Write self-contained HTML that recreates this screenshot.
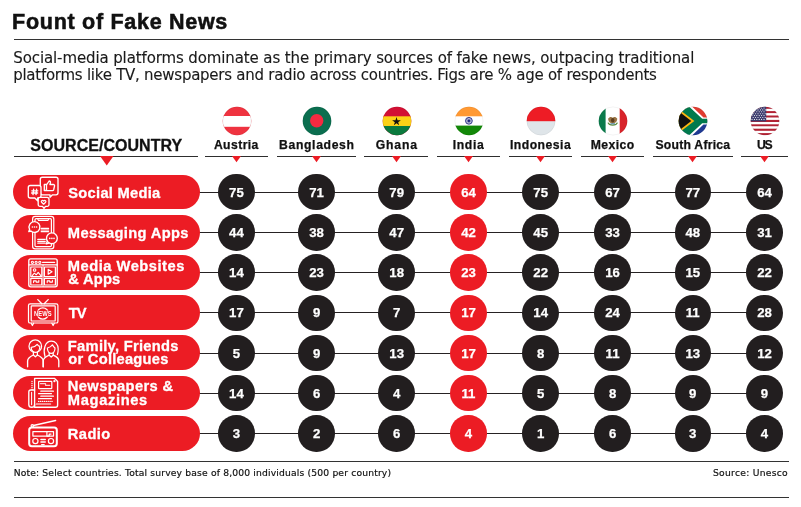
<!DOCTYPE html>
<html lang="en"><head><meta charset="utf-8"><title>Fount of Fake News</title>
<style>
html,body{margin:0;padding:0;background:#fff}
#page{position:relative;width:801px;height:507px;overflow:hidden;background:#fff}
.t{position:absolute;white-space:nowrap;margin:0}
.r{position:absolute;display:block}
</style></head><body>
<div id="page">
<div class="t" style="left:12.1px;top:10.01px;font:700 21.5px/25.8px 'Liberation Sans',sans-serif;color:#111;-webkit-text-stroke:0.55px #111;"><span id="title" style="letter-spacing:0.715px;margin-right:-0.715px;">Fount of Fake News</span></div>
<div class="r" style="left:14px;top:39px;width:775px;height:1px;background:#333"></div>
<div class="t" style="left:13.35px;top:49.01px;font:400 15px/18.0px 'DejaVu Sans','Liberation Sans',sans-serif;color:#1a1a1a;-webkit-text-stroke:0.12px #1a1a1a;"><span id="sub1" style="letter-spacing:-0.118px;margin-right:0.118px;">Social-media platforms dominate as the primary sources of fake news, outpacing traditional</span></div>
<div class="t" style="left:13.2px;top:66.01px;font:400 15px/18.0px 'DejaVu Sans','Liberation Sans',sans-serif;color:#1a1a1a;-webkit-text-stroke:0.12px #1a1a1a;"><span id="sub2" style="letter-spacing:-0.256px;margin-right:0.256px;">platforms like TV, newspapers and radio across countries. Figs are % age of respondents</span></div>
<div class="t" style="left:30.25px;top:136.00px;font:700 16px/19.2px 'Liberation Sans',sans-serif;color:#111;-webkit-text-stroke:0.3px #111;"><span id="srcc" style="letter-spacing:0.038px;margin-right:-0.038px;">SOURCE/COUNTRY</span></div>
<div class="r" style="left:14px;top:156px;width:184px;height:1.25px;background:#2e2e2e"></div>
<svg class="r" style="left:100.00px;top:156.3px" width="13.5" height="9.4" viewBox="0 0 13.5 9.4"><path d="M0 0H13.5L6.75 9.4Z" fill="#ec1c24"/></svg>
<div class="t" style="left:36.150000000000006px;width:400px;text-align:center;top:138.01px;font:700 12.2px/14.64px 'Liberation Sans',sans-serif;color:#111;-webkit-text-stroke:0.25px #111;"><span id="c0" style="letter-spacing:0.417px;margin-right:-0.417px;">Austria</span></div>
<div class="r" style="left:204.6px;top:156px;width:63.7px;height:1.25px;background:#2e2e2e"></div>
<svg class="r" style="left:231.90px;top:156.4px" width="9" height="6.2" viewBox="0 0 9 6.2"><path d="M0 0H9L4.5 6.2Z" fill="#ec1c24"/></svg>
<div class="t" style="left:116.5px;width:400px;text-align:center;top:138.01px;font:700 12.2px/14.64px 'Liberation Sans',sans-serif;color:#111;-webkit-text-stroke:0.25px #111;"><span id="c1" style="letter-spacing:0.639px;margin-right:-0.639px;">Bangladesh</span></div>
<div class="r" style="left:276.5px;top:156px;width:79.9px;height:1.25px;background:#2e2e2e"></div>
<svg class="r" style="left:312.05px;top:156.4px" width="9" height="6.2" viewBox="0 0 9 6.2"><path d="M0 0H9L4.5 6.2Z" fill="#ec1c24"/></svg>
<div class="t" style="left:196.39999999999998px;width:400px;text-align:center;top:138.01px;font:700 12.2px/14.64px 'Liberation Sans',sans-serif;color:#111;-webkit-text-stroke:0.25px #111;"><span id="c2" style="letter-spacing:0.851px;margin-right:-0.851px;">Ghana</span></div>
<div class="r" style="left:364.4px;top:156px;width:63.9px;height:1.25px;background:#2e2e2e"></div>
<svg class="r" style="left:392.15px;top:156.4px" width="9" height="6.2" viewBox="0 0 9 6.2"><path d="M0 0H9L4.5 6.2Z" fill="#ec1c24"/></svg>
<div class="t" style="left:268.25px;width:400px;text-align:center;top:138.01px;font:700 12.2px/14.64px 'Liberation Sans',sans-serif;color:#111;-webkit-text-stroke:0.25px #111;"><span id="c3" style="letter-spacing:0.611px;margin-right:-0.611px;">India</span></div>
<div class="r" style="left:436.9px;top:156px;width:63.5px;height:1.25px;background:#2e2e2e"></div>
<svg class="r" style="left:464.00px;top:156.4px" width="9" height="6.2" viewBox="0 0 9 6.2"><path d="M0 0H9L4.5 6.2Z" fill="#ec1c24"/></svg>
<div class="t" style="left:340.35px;width:400px;text-align:center;top:138.01px;font:700 12.2px/14.64px 'Liberation Sans',sans-serif;color:#111;-webkit-text-stroke:0.25px #111;"><span id="c4" style="letter-spacing:0.5px;margin-right:-0.5px;">Indonesia</span></div>
<div class="r" style="left:509px;top:156px;width:63.3px;height:1.25px;background:#2e2e2e"></div>
<svg class="r" style="left:536.15px;top:156.4px" width="9" height="6.2" viewBox="0 0 9 6.2"><path d="M0 0H9L4.5 6.2Z" fill="#ec1c24"/></svg>
<div class="t" style="left:412.45000000000005px;width:400px;text-align:center;top:138.01px;font:700 12.2px/14.64px 'Liberation Sans',sans-serif;color:#111;-webkit-text-stroke:0.25px #111;"><span id="c5" style="letter-spacing:0.4px;margin-right:-0.4px;">Mexico</span></div>
<div class="r" style="left:580.9px;top:156px;width:63.3px;height:1.25px;background:#2e2e2e"></div>
<svg class="r" style="left:608.05px;top:156.4px" width="9" height="6.2" viewBox="0 0 9 6.2"><path d="M0 0H9L4.5 6.2Z" fill="#ec1c24"/></svg>
<div class="t" style="left:492.79999999999995px;width:400px;text-align:center;top:138.01px;font:700 12.2px/14.64px 'Liberation Sans',sans-serif;color:#111;-webkit-text-stroke:0.25px #111;"><span id="c6" style="letter-spacing:0.235px;margin-right:-0.235px;">South Africa</span></div>
<div class="r" style="left:653px;top:156px;width:79.9px;height:1.25px;background:#2e2e2e"></div>
<svg class="r" style="left:688.25px;top:156.4px" width="9" height="6.2" viewBox="0 0 9 6.2"><path d="M0 0H9L4.5 6.2Z" fill="#ec1c24"/></svg>
<div class="t" style="left:564.75px;width:400px;text-align:center;top:138.01px;font:700 12.2px/14.64px 'Liberation Sans',sans-serif;color:#111;-webkit-text-stroke:0.25px #111;"><span id="c7" style="letter-spacing:-1.4px;margin-right:1.4px;">US</span></div>
<div class="r" style="left:741.2px;top:156px;width:47.3px;height:1.25px;background:#2e2e2e"></div>
<svg class="r" style="left:760.00px;top:156.4px" width="9" height="6.2" viewBox="0 0 9 6.2"><path d="M0 0H9L4.5 6.2Z" fill="#ec1c24"/></svg>
<svg class="r" style="left:221.6px;top:106.2px" width="30" height="30" viewBox="-15 -15 30 30"><defs><clipPath id="fc0"><circle r="14.3"/></clipPath></defs><g clip-path="url(#fc0)"><rect x="-15" y="-15" width="30" height="30" fill="#ef3340"/><rect x="-15" y="-5" width="30" height="10.8" fill="#fff"/></g><circle r="14.100000000000001" fill="none" stroke="#000" stroke-opacity="0.07" stroke-width="0.7"/></svg>
<svg class="r" style="left:301.75px;top:106.2px" width="30" height="30" viewBox="-15 -15 30 30"><defs><clipPath id="fc1"><circle r="14.3"/></clipPath></defs><g clip-path="url(#fc1)"><rect x="-15" y="-15" width="30" height="30" fill="#0b6e4f"/><circle cx="-0.3" cy="-0.2" r="6.7" fill="#f42a41"/></g><circle r="14.100000000000001" fill="none" stroke="#000" stroke-opacity="0.07" stroke-width="0.7"/></svg>
<svg class="r" style="left:381.84999999999997px;top:106.2px" width="30" height="30" viewBox="-15 -15 30 30"><defs><clipPath id="fc2"><circle r="14.3"/></clipPath></defs><g clip-path="url(#fc2)"><rect x="-15" y="-15" width="30" height="30" fill="#d21034"/><rect x="-15" y="-4.7" width="30" height="9.7" fill="#fcd116"/><rect x="-15" y="5" width="30" height="10" fill="#0b7a3e"/><polygon points="-0.50,-4.00 0.53,-0.82 3.87,-0.82 1.17,1.14 2.20,4.32 -0.50,2.36 -3.20,4.32 -2.17,1.14 -4.87,-0.82 -1.53,-0.82" fill="#111"/></g><circle r="14.100000000000001" fill="none" stroke="#000" stroke-opacity="0.07" stroke-width="0.7"/></svg>
<svg class="r" style="left:453.7px;top:106.2px" width="30" height="30" viewBox="-15 -15 30 30"><defs><clipPath id="fc3"><circle r="14.3"/></clipPath></defs><g clip-path="url(#fc3)"><rect x="-15" y="-15" width="30" height="30" fill="#fff"/><rect x="-15" y="-15" width="30" height="10.3" fill="#ff9933"/><rect x="-15" y="4.6" width="30" height="11" fill="#138808"/><g transform="translate(-0.1,-0.2)" stroke="#1a237e" stroke-width="0.5" fill="none"><circle r="3.4" stroke-width="0.9"/><line x1="0" y1="0" x2="3.20" y2="0.00"/><line x1="0" y1="0" x2="2.77" y2="1.60"/><line x1="0" y1="0" x2="1.60" y2="2.77"/><line x1="0" y1="0" x2="0.00" y2="3.20"/><line x1="0" y1="0" x2="-1.60" y2="2.77"/><line x1="0" y1="0" x2="-2.77" y2="1.60"/><line x1="0" y1="0" x2="-3.20" y2="0.00"/><line x1="0" y1="0" x2="-2.77" y2="-1.60"/><line x1="0" y1="0" x2="-1.60" y2="-2.77"/><line x1="0" y1="0" x2="-0.00" y2="-3.20"/><line x1="0" y1="0" x2="1.60" y2="-2.77"/><line x1="0" y1="0" x2="2.77" y2="-1.60"/><circle r="0.9" fill="#1a237e"/></g></g><circle r="14.100000000000001" fill="none" stroke="#000" stroke-opacity="0.07" stroke-width="0.7"/></svg>
<svg class="r" style="left:525.85px;top:106.2px" width="30" height="30" viewBox="-15 -15 30 30"><defs><clipPath id="fc4"><circle r="14.3"/></clipPath></defs><g clip-path="url(#fc4)"><rect x="-15" y="-15" width="30" height="30" fill="#dfe5e9"/><rect x="-15" y="-15" width="30" height="15.2" fill="#ee1c25"/></g><circle r="14.100000000000001" fill="none" stroke="#000" stroke-opacity="0.07" stroke-width="0.7"/></svg>
<svg class="r" style="left:597.75px;top:106.2px" width="30" height="30" viewBox="-15 -15 30 30"><defs><clipPath id="fc5"><circle r="14.3"/></clipPath></defs><g clip-path="url(#fc5)"><rect x="-15" y="-15" width="30" height="30" fill="#fff"/><rect x="-15" y="-15" width="7.6" height="30" fill="#0b7a4b"/><rect x="6.7" y="-15" width="9" height="30" fill="#d8232a"/><path d="M-4.800 -2.400C-3.600 -4.400 -1.400 -4.600 -0.300 -3.200C0.800 -4.600 3 -4.400 4.200 -2.400C4.400 0.200 2.600 2.400 -0.300 2.600C-3.200 2.400 -5 0.200 -4.800 -2.400Z" fill="#9a7444"/><path d="M-5 1.600C-3.800 5 3.200 5 4.400 1.600" stroke="#5b8a3a" stroke-width="1.200" fill="none"/><ellipse cx="-0.300" cy="-0.800" rx="1.700" ry="2.300" fill="#5a3d1e"/><path d="M-2.600 2.800h4.600" stroke="#3b7fa8" stroke-width="0.900"/></g><circle r="14.100000000000001" fill="none" stroke="#000" stroke-opacity="0.07" stroke-width="0.7"/></svg>
<svg class="r" style="left:677.95px;top:106.2px" width="30" height="30" viewBox="-15 -15 30 30"><defs><clipPath id="fc6"><circle r="14.3"/></clipPath></defs><g clip-path="url(#fc6)"><rect x="-15" y="-15" width="30" height="15" fill="#e03c31"/><rect x="-15" y="0" width="30" height="15" fill="#1f3a93"/><path d="M-15 -15L-1.5 -15L10.5 -3.5H16V3.5H10.5L-1.500 15H-15Z" fill="#fff"/><path d="M-15 -15L-4.600 -15L9.200 -2.200H16V2.200H9.200L-4.600 15H-15Z" fill="#007a4d"/><path d="M-15 -12.500L1.400 0L-15 12.500Z" fill="#ffb612"/><path d="M-15 -10.200L-1.700 0L-15 10.200Z" fill="#111"/></g><circle r="14.100000000000001" fill="none" stroke="#000" stroke-opacity="0.07" stroke-width="0.7"/></svg>
<svg class="r" style="left:749.7px;top:106.2px" width="30" height="30" viewBox="-15 -15 30 30"><defs><clipPath id="fc7"><circle r="14.3"/></clipPath></defs><g clip-path="url(#fc7)"><rect x="-15" y="-15" width="30" height="30" fill="#fff"/><rect x="-15" y="-14.30" width="30" height="2.2" fill="#b22234"/><rect x="-15" y="-12.10" width="30" height="2.2" fill="#fff"/><rect x="-15" y="-9.90" width="30" height="2.2" fill="#b22234"/><rect x="-15" y="-7.70" width="30" height="2.2" fill="#fff"/><rect x="-15" y="-5.50" width="30" height="2.2" fill="#b22234"/><rect x="-15" y="-3.30" width="30" height="2.2" fill="#fff"/><rect x="-15" y="-1.10" width="30" height="2.2" fill="#b22234"/><rect x="-15" y="1.10" width="30" height="2.2" fill="#fff"/><rect x="-15" y="3.30" width="30" height="2.2" fill="#b22234"/><rect x="-15" y="5.50" width="30" height="2.2" fill="#fff"/><rect x="-15" y="7.70" width="30" height="2.2" fill="#b22234"/><rect x="-15" y="9.90" width="30" height="2.2" fill="#fff"/><rect x="-15" y="12.10" width="30" height="2.2" fill="#b22234"/><rect x="-15" y="-15" width="16.2" height="15.4" fill="#3c3b6e"/><circle cx="-13.00" cy="-13.00" r="0.55" fill="#fff"/><circle cx="-10.60" cy="-13.00" r="0.55" fill="#fff"/><circle cx="-8.20" cy="-13.00" r="0.55" fill="#fff"/><circle cx="-5.80" cy="-13.00" r="0.55" fill="#fff"/><circle cx="-3.40" cy="-13.00" r="0.55" fill="#fff"/><circle cx="-1.00" cy="-13.00" r="0.55" fill="#fff"/><circle cx="-11.80" cy="-11.10" r="0.55" fill="#fff"/><circle cx="-9.40" cy="-11.10" r="0.55" fill="#fff"/><circle cx="-7.00" cy="-11.10" r="0.55" fill="#fff"/><circle cx="-4.60" cy="-11.10" r="0.55" fill="#fff"/><circle cx="-2.20" cy="-11.10" r="0.55" fill="#fff"/><circle cx="0.20" cy="-11.10" r="0.55" fill="#fff"/><circle cx="-13.00" cy="-9.20" r="0.55" fill="#fff"/><circle cx="-10.60" cy="-9.20" r="0.55" fill="#fff"/><circle cx="-8.20" cy="-9.20" r="0.55" fill="#fff"/><circle cx="-5.80" cy="-9.20" r="0.55" fill="#fff"/><circle cx="-3.40" cy="-9.20" r="0.55" fill="#fff"/><circle cx="-1.00" cy="-9.20" r="0.55" fill="#fff"/><circle cx="-11.80" cy="-7.30" r="0.55" fill="#fff"/><circle cx="-9.40" cy="-7.30" r="0.55" fill="#fff"/><circle cx="-7.00" cy="-7.30" r="0.55" fill="#fff"/><circle cx="-4.60" cy="-7.30" r="0.55" fill="#fff"/><circle cx="-2.20" cy="-7.30" r="0.55" fill="#fff"/><circle cx="0.20" cy="-7.30" r="0.55" fill="#fff"/><circle cx="-13.00" cy="-5.40" r="0.55" fill="#fff"/><circle cx="-10.60" cy="-5.40" r="0.55" fill="#fff"/><circle cx="-8.20" cy="-5.40" r="0.55" fill="#fff"/><circle cx="-5.80" cy="-5.40" r="0.55" fill="#fff"/><circle cx="-3.40" cy="-5.40" r="0.55" fill="#fff"/><circle cx="-1.00" cy="-5.40" r="0.55" fill="#fff"/><circle cx="-11.80" cy="-3.50" r="0.55" fill="#fff"/><circle cx="-9.40" cy="-3.50" r="0.55" fill="#fff"/><circle cx="-7.00" cy="-3.50" r="0.55" fill="#fff"/><circle cx="-4.60" cy="-3.50" r="0.55" fill="#fff"/><circle cx="-2.20" cy="-3.50" r="0.55" fill="#fff"/><circle cx="0.20" cy="-3.50" r="0.55" fill="#fff"/><circle cx="-13.00" cy="-1.60" r="0.55" fill="#fff"/><circle cx="-10.60" cy="-1.60" r="0.55" fill="#fff"/><circle cx="-8.20" cy="-1.60" r="0.55" fill="#fff"/><circle cx="-5.80" cy="-1.60" r="0.55" fill="#fff"/><circle cx="-3.40" cy="-1.60" r="0.55" fill="#fff"/><circle cx="-1.00" cy="-1.60" r="0.55" fill="#fff"/></g><circle r="14.100000000000001" fill="none" stroke="#000" stroke-opacity="0.07" stroke-width="0.7"/></svg>
<div class="r" style="left:190px;top:191.70px;width:575px;height:1.1px;background:#262223"></div>
<div class="r" style="left:13px;top:174.60px;width:186.5px;height:34.9px;border-radius:17.5px;background:#ec1c24"></div>
<svg class="r" style="left:20px;top:170px" width="60" height="42" viewBox="0 0 60 42" fill="none" stroke="#fff" stroke-width="1.35" stroke-linecap="round" stroke-linejoin="round"><!-- social -->
<path d="M22.3 7.2H36a2 2 0 0 1 2 2V22.8a2 2 0 0 1-2 2H32.5L30 27.2V24.8H22.3a2 2 0 0 1-2-2V9.2a2 2 0 0 1 2-2Z" fill="#ec1c24"/>
<path d="M24.3 14.5h2.2v6h-2.2zM26.5 15l2.6-4c1.2 0 1.6 1 1.2 2.2l-.4 1.3h3.4c1 0 1.4.8 1.2 1.6l-.8 3.6c-.2.6-.6.9-1.3.9h-5.9"/>
<path d="M10.3 15.5H19a2 2 0 0 1 2 2V26a2 2 0 0 1-2 2H17.6V30.8L14.8 28H10.3a2 2 0 0 1-2-2V17.5a2 2 0 0 1 2-2Z" fill="#ec1c24"/>
<path d="M13.6 19.2l-.6 5.4M16.6 19.2l-.6 5.4M11.8 20.8h6M11.6 23h6"/>
<path d="M20 27.4H27.2a1.8 1.8 0 0 1 1.8 1.8V34.6a1.8 1.8 0 0 1-1.8 1.8H25.5L24 38.4 22.5 36.4H20a1.8 1.8 0 0 1-1.8-1.8V29.2a1.8 1.8 0 0 1 1.8-1.8Z" fill="#ec1c24"/>
<path d="M23.6 34.2l-2-2c-.9-1.1.7-2.6 2-1.2 1.3-1.4 2.900.1 2 1.2Z" stroke-width="1.22"/>
</svg>
<div class="t" style="left:68.3px;top:185.01px;font:700 14.7px/17.64px 'Liberation Sans',sans-serif;color:#fff;-webkit-text-stroke:0.3px #fff;"><span id="p0a" style="letter-spacing:0.269px;margin-right:-0.269px;">Social Media</span></div>
<div class="r" style="left:218.20px;top:174.05px;width:36.4px;height:36.4px;border-radius:50%;background:#221e1f"></div>
<div class="t" style="left:36.400000000000006px;width:400px;text-align:center;top:185.01px;font:700 13.2px/15.84px 'Liberation Sans',sans-serif;color:#fff;-webkit-text-stroke:0.25px #fff;"><span id="v0_0" style="letter-spacing:0px;">75</span></div>
<div class="r" style="left:298.35px;top:174.05px;width:36.4px;height:36.4px;border-radius:50%;background:#221e1f"></div>
<div class="t" style="left:116.55000000000001px;width:400px;text-align:center;top:185.01px;font:700 13.2px/15.84px 'Liberation Sans',sans-serif;color:#fff;-webkit-text-stroke:0.25px #fff;"><span id="v0_1" style="letter-spacing:0px;">71</span></div>
<div class="r" style="left:378.45px;top:174.05px;width:36.4px;height:36.4px;border-radius:50%;background:#221e1f"></div>
<div class="t" style="left:196.64999999999998px;width:400px;text-align:center;top:185.01px;font:700 13.2px/15.84px 'Liberation Sans',sans-serif;color:#fff;-webkit-text-stroke:0.25px #fff;"><span id="v0_2" style="letter-spacing:0px;">79</span></div>
<div class="r" style="left:450.30px;top:174.05px;width:36.4px;height:36.4px;border-radius:50%;background:#ec1c24"></div>
<div class="t" style="left:268.5px;width:400px;text-align:center;top:185.01px;font:700 13.2px/15.84px 'Liberation Sans',sans-serif;color:#fff;-webkit-text-stroke:0.25px #fff;"><span id="v0_3" style="letter-spacing:0px;">64</span></div>
<div class="r" style="left:522.45px;top:174.05px;width:36.4px;height:36.4px;border-radius:50%;background:#221e1f"></div>
<div class="t" style="left:340.65px;width:400px;text-align:center;top:185.01px;font:700 13.2px/15.84px 'Liberation Sans',sans-serif;color:#fff;-webkit-text-stroke:0.25px #fff;"><span id="v0_4" style="letter-spacing:0px;">75</span></div>
<div class="r" style="left:594.35px;top:174.05px;width:36.4px;height:36.4px;border-radius:50%;background:#221e1f"></div>
<div class="t" style="left:412.54999999999995px;width:400px;text-align:center;top:185.01px;font:700 13.2px/15.84px 'Liberation Sans',sans-serif;color:#fff;-webkit-text-stroke:0.25px #fff;"><span id="v0_5" style="letter-spacing:0px;">67</span></div>
<div class="r" style="left:674.55px;top:174.05px;width:36.4px;height:36.4px;border-radius:50%;background:#221e1f"></div>
<div class="t" style="left:492.75px;width:400px;text-align:center;top:185.01px;font:700 13.2px/15.84px 'Liberation Sans',sans-serif;color:#fff;-webkit-text-stroke:0.25px #fff;"><span id="v0_6" style="letter-spacing:0px;">77</span></div>
<div class="r" style="left:746.30px;top:174.05px;width:36.4px;height:36.4px;border-radius:50%;background:#221e1f"></div>
<div class="t" style="left:564.5px;width:400px;text-align:center;top:185.01px;font:700 13.2px/15.84px 'Liberation Sans',sans-serif;color:#fff;-webkit-text-stroke:0.25px #fff;"><span id="v0_7" style="letter-spacing:0px;">64</span></div>
<div class="r" style="left:190px;top:231.90px;width:575px;height:1.1px;background:#262223"></div>
<div class="r" style="left:13px;top:214.80px;width:186.5px;height:34.9px;border-radius:17.5px;background:#ec1c24"></div>
<svg class="r" style="left:20px;top:210px" width="60" height="42" viewBox="0 0 60 42" fill="none" stroke="#fff" stroke-width="1.35" stroke-linecap="round" stroke-linejoin="round">
<!-- messaging -->
<rect x="12.6" y="6.4" width="21.2" height="32.4" rx="2.6" stroke-width="1.22"/>
<rect x="15" y="8.6" width="16.4" height="28" rx="1.2" stroke-width="1.22"/>
<path d="M17.5 8.6l1 1.8h9.400l1-1.800" stroke-width="1.08"/>
<path d="M21.2 18.400h7.400M21.2 20h7.400M21.200 21.700h7.400M17.800 29.400h7.400M17.800 31.400h7.400M17.800 33.200h7.400" stroke-width="1.22"/>
<path d="M14.500 11.600a5.400 5.400 0 1 1-3.600 9.400L8.800 21.600l.8-2.200A5.400 5.400 0 0 1 14.500 11.600Z" fill="#ec1c24"/>
<path d="M12.400 17h.01M14.500 17h.01M16.600 17h.01" stroke-width="1.62"/>
<path d="M31.900 22.900a5.400 5.400 0 1 1-4.800 7.900l-1.200 2.600 3 -.6A5.400 5.400 0 0 0 31.900 22.900Z" fill="#ec1c24" stroke="none"/>
<circle cx="31.900" cy="28.300" r="5.400" fill="#ec1c24"/>
<path d="M27.400 31.300l-1.200 2.600 3-.8" />
<path d="M29.800 28.400h.01M31.900 28.400h.01M34 28.400h.01" stroke-width="1.62"/>
</svg>
<div class="t" style="left:67.85px;top:225.00px;font:700 14.7px/17.64px 'Liberation Sans',sans-serif;color:#fff;-webkit-text-stroke:0.3px #fff;"><span id="p1a" style="letter-spacing:0.342px;margin-right:-0.342px;">Messaging Apps</span></div>
<div class="r" style="left:218.20px;top:214.25px;width:36.4px;height:36.4px;border-radius:50%;background:#221e1f"></div>
<div class="t" style="left:36.400000000000006px;width:400px;text-align:center;top:225.01px;font:700 13.2px/15.84px 'Liberation Sans',sans-serif;color:#fff;-webkit-text-stroke:0.25px #fff;"><span id="v1_0" style="letter-spacing:0px;">44</span></div>
<div class="r" style="left:298.35px;top:214.25px;width:36.4px;height:36.4px;border-radius:50%;background:#221e1f"></div>
<div class="t" style="left:116.55000000000001px;width:400px;text-align:center;top:225.01px;font:700 13.2px/15.84px 'Liberation Sans',sans-serif;color:#fff;-webkit-text-stroke:0.25px #fff;"><span id="v1_1" style="letter-spacing:0px;">38</span></div>
<div class="r" style="left:378.45px;top:214.25px;width:36.4px;height:36.4px;border-radius:50%;background:#221e1f"></div>
<div class="t" style="left:196.64999999999998px;width:400px;text-align:center;top:225.01px;font:700 13.2px/15.84px 'Liberation Sans',sans-serif;color:#fff;-webkit-text-stroke:0.25px #fff;"><span id="v1_2" style="letter-spacing:0px;">47</span></div>
<div class="r" style="left:450.30px;top:214.25px;width:36.4px;height:36.4px;border-radius:50%;background:#ec1c24"></div>
<div class="t" style="left:268.5px;width:400px;text-align:center;top:225.01px;font:700 13.2px/15.84px 'Liberation Sans',sans-serif;color:#fff;-webkit-text-stroke:0.25px #fff;"><span id="v1_3" style="letter-spacing:0px;">42</span></div>
<div class="r" style="left:522.45px;top:214.25px;width:36.4px;height:36.4px;border-radius:50%;background:#221e1f"></div>
<div class="t" style="left:340.65px;width:400px;text-align:center;top:225.01px;font:700 13.2px/15.84px 'Liberation Sans',sans-serif;color:#fff;-webkit-text-stroke:0.25px #fff;"><span id="v1_4" style="letter-spacing:0px;">45</span></div>
<div class="r" style="left:594.35px;top:214.25px;width:36.4px;height:36.4px;border-radius:50%;background:#221e1f"></div>
<div class="t" style="left:412.54999999999995px;width:400px;text-align:center;top:225.01px;font:700 13.2px/15.84px 'Liberation Sans',sans-serif;color:#fff;-webkit-text-stroke:0.25px #fff;"><span id="v1_5" style="letter-spacing:0px;">33</span></div>
<div class="r" style="left:674.55px;top:214.25px;width:36.4px;height:36.4px;border-radius:50%;background:#221e1f"></div>
<div class="t" style="left:492.75px;width:400px;text-align:center;top:225.01px;font:700 13.2px/15.84px 'Liberation Sans',sans-serif;color:#fff;-webkit-text-stroke:0.25px #fff;"><span id="v1_6" style="letter-spacing:0px;">48</span></div>
<div class="r" style="left:746.30px;top:214.25px;width:36.4px;height:36.4px;border-radius:50%;background:#221e1f"></div>
<div class="t" style="left:564.5px;width:400px;text-align:center;top:225.01px;font:700 13.2px/15.84px 'Liberation Sans',sans-serif;color:#fff;-webkit-text-stroke:0.25px #fff;"><span id="v1_7" style="letter-spacing:0px;">31</span></div>
<div class="r" style="left:190px;top:272.10px;width:575px;height:1.1px;background:#262223"></div>
<div class="r" style="left:13px;top:255.00px;width:186.5px;height:34.9px;border-radius:17.5px;background:#ec1c24"></div>
<svg class="r" style="left:20px;top:250px" width="60" height="42" viewBox="0 0 60 42" fill="none" stroke="#fff" stroke-width="1.35" stroke-linecap="round" stroke-linejoin="round">
<!-- media websites -->
<rect x="8.800" y="8.800" width="28.400" height="28" rx="2" stroke-width="1.35"/>
<path d="M8.800 14.900h28.400" />
<circle cx="12.400" cy="12.300" r="1.100" stroke-width="1.08"/><circle cx="16.100" cy="12.300" r="1.100" stroke-width="1.08"/><circle cx="19.800" cy="12.300" r="1.100" stroke-width="1.08"/>
<path d="M22.600 12.300h12"/>
<rect x="10.800" y="17" width="11" height="9.600" stroke-width="1.22"/>
<rect x="24.400" y="17" width="11" height="9.600" stroke-width="1.22"/>
<rect x="10.800" y="28.400" width="11" height="6.600" stroke-width="1.22"/>
<rect x="24.400" y="28.400" width="11" height="6.600" stroke-width="1.22"/>
<path d="M23.100 15.500v20.500" stroke-width="1.76" opacity="0.55"/>
<circle cx="14.600" cy="20" r="1.300" stroke-width="1.08"/>
<path d="M12.200 25.600l2.200-2.400 1.800 1.600 2-2.400 2.600 3.200" stroke-width="1.08"/>
<path d="M28.200 19.400v4.800l3.800-2.400z" stroke-width="1.22"/>
<path d="M13.600 32.600v-1.700h2.600v1.200h2.600v-1.700M27.200 32.600v-1.700h2.600v1.200h2.600v-1.700" stroke-width="1.08"/>
</svg>
<div class="t" style="left:67.85px;top:258.01px;font:700 14.7px/17.64px 'Liberation Sans',sans-serif;color:#fff;-webkit-text-stroke:0.3px #fff;"><span id="p2a" style="letter-spacing:0.504px;margin-right:-0.504px;">Media Websites</span></div>
<div class="t" style="left:68.35px;top:271.01px;font:700 14.7px/17.64px 'Liberation Sans',sans-serif;color:#fff;-webkit-text-stroke:0.3px #fff;"><span id="p2b" style="letter-spacing:0.21px;margin-right:-0.21px;">&amp; Apps</span></div>
<div class="r" style="left:218.20px;top:254.45px;width:36.4px;height:36.4px;border-radius:50%;background:#221e1f"></div>
<div class="t" style="left:36.400000000000006px;width:400px;text-align:center;top:265.01px;font:700 13.2px/15.84px 'Liberation Sans',sans-serif;color:#fff;-webkit-text-stroke:0.25px #fff;"><span id="v2_0" style="letter-spacing:0px;">14</span></div>
<div class="r" style="left:298.35px;top:254.45px;width:36.4px;height:36.4px;border-radius:50%;background:#221e1f"></div>
<div class="t" style="left:116.55000000000001px;width:400px;text-align:center;top:265.01px;font:700 13.2px/15.84px 'Liberation Sans',sans-serif;color:#fff;-webkit-text-stroke:0.25px #fff;"><span id="v2_1" style="letter-spacing:0px;">23</span></div>
<div class="r" style="left:378.45px;top:254.45px;width:36.4px;height:36.4px;border-radius:50%;background:#221e1f"></div>
<div class="t" style="left:196.64999999999998px;width:400px;text-align:center;top:265.01px;font:700 13.2px/15.84px 'Liberation Sans',sans-serif;color:#fff;-webkit-text-stroke:0.25px #fff;"><span id="v2_2" style="letter-spacing:0px;">18</span></div>
<div class="r" style="left:450.30px;top:254.45px;width:36.4px;height:36.4px;border-radius:50%;background:#ec1c24"></div>
<div class="t" style="left:268.5px;width:400px;text-align:center;top:265.01px;font:700 13.2px/15.84px 'Liberation Sans',sans-serif;color:#fff;-webkit-text-stroke:0.25px #fff;"><span id="v2_3" style="letter-spacing:0px;">23</span></div>
<div class="r" style="left:522.45px;top:254.45px;width:36.4px;height:36.4px;border-radius:50%;background:#221e1f"></div>
<div class="t" style="left:340.65px;width:400px;text-align:center;top:265.01px;font:700 13.2px/15.84px 'Liberation Sans',sans-serif;color:#fff;-webkit-text-stroke:0.25px #fff;"><span id="v2_4" style="letter-spacing:0px;">22</span></div>
<div class="r" style="left:594.35px;top:254.45px;width:36.4px;height:36.4px;border-radius:50%;background:#221e1f"></div>
<div class="t" style="left:412.54999999999995px;width:400px;text-align:center;top:265.01px;font:700 13.2px/15.84px 'Liberation Sans',sans-serif;color:#fff;-webkit-text-stroke:0.25px #fff;"><span id="v2_5" style="letter-spacing:0px;">16</span></div>
<div class="r" style="left:674.55px;top:254.45px;width:36.4px;height:36.4px;border-radius:50%;background:#221e1f"></div>
<div class="t" style="left:492.75px;width:400px;text-align:center;top:265.01px;font:700 13.2px/15.84px 'Liberation Sans',sans-serif;color:#fff;-webkit-text-stroke:0.25px #fff;"><span id="v2_6" style="letter-spacing:0px;">15</span></div>
<div class="r" style="left:746.30px;top:254.45px;width:36.4px;height:36.4px;border-radius:50%;background:#221e1f"></div>
<div class="t" style="left:564.5px;width:400px;text-align:center;top:265.01px;font:700 13.2px/15.84px 'Liberation Sans',sans-serif;color:#fff;-webkit-text-stroke:0.25px #fff;"><span id="v2_7" style="letter-spacing:0px;">22</span></div>
<div class="r" style="left:190px;top:312.30px;width:575px;height:1.1px;background:#262223"></div>
<div class="r" style="left:13px;top:295.20px;width:186.5px;height:34.9px;border-radius:17.5px;background:#ec1c24"></div>
<svg class="r" style="left:20px;top:290px" width="60" height="42" viewBox="0 0 60 42" fill="none" stroke="#fff" stroke-width="1.35" stroke-linecap="round" stroke-linejoin="round">
<!-- tv -->
<path d="M17.800 9.600l4 4.100M28.200 9.600l-4 4.100"/>
<rect x="8.500" y="13.800" width="29.400" height="19.200" rx="1.600" stroke-width="1.22"/>
<rect x="11.200" y="15.800" width="24" height="15.200" rx="0.600" stroke-width="1.22"/>
<path d="M11.200 33.200l1.200 2.300 1.200-2.300M31.900 33.200l1.200 2.300 1.200-2.300" stroke-width="1.22"/>
<circle cx="22.800" cy="23.500" r="5.700" stroke-width="1.22"/>
<rect x="13.600" y="20.600" width="18.400" height="5.900" fill="#ec1c24" stroke="none"/>
<text x="22.800" y="26" text-anchor="middle" font-family="'Liberation Sans',sans-serif" font-size="6.6" font-weight="700" fill="#fff" stroke="none" textLength="17.400" lengthAdjust="spacingAndGlyphs">NEWS</text>
</svg>
<div class="t" style="left:68.85px;top:305.01px;font:700 14.7px/17.64px 'Liberation Sans',sans-serif;color:#fff;-webkit-text-stroke:0.3px #fff;"><span id="p3a" style="letter-spacing:-1.05px;margin-right:1.05px;">TV</span></div>
<div class="r" style="left:218.20px;top:294.65px;width:36.4px;height:36.4px;border-radius:50%;background:#221e1f"></div>
<div class="t" style="left:36.400000000000006px;width:400px;text-align:center;top:305.00px;font:700 13.2px/15.84px 'Liberation Sans',sans-serif;color:#fff;-webkit-text-stroke:0.25px #fff;"><span id="v3_0" style="letter-spacing:0px;">17</span></div>
<div class="r" style="left:298.35px;top:294.65px;width:36.4px;height:36.4px;border-radius:50%;background:#221e1f"></div>
<div class="t" style="left:116.55000000000001px;width:400px;text-align:center;top:305.00px;font:700 13.2px/15.84px 'Liberation Sans',sans-serif;color:#fff;-webkit-text-stroke:0.25px #fff;"><span id="v3_1" style="letter-spacing:0px;">9</span></div>
<div class="r" style="left:378.45px;top:294.65px;width:36.4px;height:36.4px;border-radius:50%;background:#221e1f"></div>
<div class="t" style="left:196.64999999999998px;width:400px;text-align:center;top:305.00px;font:700 13.2px/15.84px 'Liberation Sans',sans-serif;color:#fff;-webkit-text-stroke:0.25px #fff;"><span id="v3_2" style="letter-spacing:0px;">7</span></div>
<div class="r" style="left:450.30px;top:294.65px;width:36.4px;height:36.4px;border-radius:50%;background:#ec1c24"></div>
<div class="t" style="left:268.5px;width:400px;text-align:center;top:305.00px;font:700 13.2px/15.84px 'Liberation Sans',sans-serif;color:#fff;-webkit-text-stroke:0.25px #fff;"><span id="v3_3" style="letter-spacing:0px;">17</span></div>
<div class="r" style="left:522.45px;top:294.65px;width:36.4px;height:36.4px;border-radius:50%;background:#221e1f"></div>
<div class="t" style="left:340.65px;width:400px;text-align:center;top:305.00px;font:700 13.2px/15.84px 'Liberation Sans',sans-serif;color:#fff;-webkit-text-stroke:0.25px #fff;"><span id="v3_4" style="letter-spacing:0px;">14</span></div>
<div class="r" style="left:594.35px;top:294.65px;width:36.4px;height:36.4px;border-radius:50%;background:#221e1f"></div>
<div class="t" style="left:412.54999999999995px;width:400px;text-align:center;top:305.00px;font:700 13.2px/15.84px 'Liberation Sans',sans-serif;color:#fff;-webkit-text-stroke:0.25px #fff;"><span id="v3_5" style="letter-spacing:0px;">24</span></div>
<div class="r" style="left:674.55px;top:294.65px;width:36.4px;height:36.4px;border-radius:50%;background:#221e1f"></div>
<div class="t" style="left:492.75px;width:400px;text-align:center;top:305.00px;font:700 13.2px/15.84px 'Liberation Sans',sans-serif;color:#fff;-webkit-text-stroke:0.25px #fff;"><span id="v3_6" style="letter-spacing:0px;">11</span></div>
<div class="r" style="left:746.30px;top:294.65px;width:36.4px;height:36.4px;border-radius:50%;background:#221e1f"></div>
<div class="t" style="left:564.5px;width:400px;text-align:center;top:305.00px;font:700 13.2px/15.84px 'Liberation Sans',sans-serif;color:#fff;-webkit-text-stroke:0.25px #fff;"><span id="v3_7" style="letter-spacing:0px;">28</span></div>
<div class="r" style="left:190px;top:352.50px;width:575px;height:1.1px;background:#262223"></div>
<div class="r" style="left:13px;top:335.40px;width:186.5px;height:34.9px;border-radius:17.5px;background:#ec1c24"></div>
<svg class="r" style="left:20px;top:330px" width="60" height="42" viewBox="0 0 60 42" fill="none" stroke="#fff" stroke-width="1.35" stroke-linecap="round" stroke-linejoin="round">
<!-- family -->
<circle cx="15.300" cy="16.200" r="6.300" stroke-width="1.22"/>
<path d="M11.200 17.400c2.600-.2 4.800-1.400 6-3 .8 1.200 1.800 1.800 2.600 2 0 3.400-1.800 6-4.300 6s-4.300-2.400-4.300-5Z" fill="#ec1c24" stroke-width="1.22"/>
<path d="M13.400 22.200v2.800l2 1.800 2-1.800v-2.800" stroke-width="1.22"/>
<path d="M7.600 36.800V31c0-2.600 2-4.200 5.800-6M17.400 25c3.800 1.800 5.800 3.400 5.800 6v5.800"/>
<path d="M25 26.600c-1-3.200-1-7.600 0-10.400 1.200-3.200 3.600-5 6.400-5 4 0 6.800 3.400 6.800 7.800 0 1.800-.2 3.600-.8 5.600" stroke-width="1.22"/>
<path d="M27.400 18c2.400-.4 4-1.600 5-3.200.8 1.600 1.600 2.600 2.600 3.200 0 3-1.600 5.400-3.800 5.400s-3.800-2.400-3.800-5.400Z" stroke-width="1.22"/>
<path d="M29.200 23v2.200l2 1.800 2-1.800V23" stroke-width="1.22"/>
<path d="M23.200 36.800V31c0-2.600 2.200-4.200 6-5.800M33.200 25.200c3.800 1.600 5.600 3.200 5.600 5.800v5.800"/>
</svg>
<div class="t" style="left:67.85px;top:338.00px;font:700 14.7px/17.64px 'Liberation Sans',sans-serif;color:#fff;-webkit-text-stroke:0.3px #fff;"><span id="p4a" style="letter-spacing:0.279px;margin-right:-0.279px;">Family, Friends</span></div>
<div class="t" style="left:68.35px;top:351.00px;font:700 14.7px/17.64px 'Liberation Sans',sans-serif;color:#fff;-webkit-text-stroke:0.3px #fff;"><span id="p4b" style="letter-spacing:0.241px;margin-right:-0.241px;">or Colleagues</span></div>
<div class="r" style="left:218.20px;top:334.85px;width:36.4px;height:36.4px;border-radius:50%;background:#221e1f"></div>
<div class="t" style="left:36.400000000000006px;width:400px;text-align:center;top:346.00px;font:700 13.2px/15.84px 'Liberation Sans',sans-serif;color:#fff;-webkit-text-stroke:0.25px #fff;"><span id="v4_0" style="letter-spacing:0px;">5</span></div>
<div class="r" style="left:298.35px;top:334.85px;width:36.4px;height:36.4px;border-radius:50%;background:#221e1f"></div>
<div class="t" style="left:116.55000000000001px;width:400px;text-align:center;top:346.00px;font:700 13.2px/15.84px 'Liberation Sans',sans-serif;color:#fff;-webkit-text-stroke:0.25px #fff;"><span id="v4_1" style="letter-spacing:0px;">9</span></div>
<div class="r" style="left:378.45px;top:334.85px;width:36.4px;height:36.4px;border-radius:50%;background:#221e1f"></div>
<div class="t" style="left:196.64999999999998px;width:400px;text-align:center;top:346.00px;font:700 13.2px/15.84px 'Liberation Sans',sans-serif;color:#fff;-webkit-text-stroke:0.25px #fff;"><span id="v4_2" style="letter-spacing:0px;">13</span></div>
<div class="r" style="left:450.30px;top:334.85px;width:36.4px;height:36.4px;border-radius:50%;background:#ec1c24"></div>
<div class="t" style="left:268.5px;width:400px;text-align:center;top:346.00px;font:700 13.2px/15.84px 'Liberation Sans',sans-serif;color:#fff;-webkit-text-stroke:0.25px #fff;"><span id="v4_3" style="letter-spacing:0px;">17</span></div>
<div class="r" style="left:522.45px;top:334.85px;width:36.4px;height:36.4px;border-radius:50%;background:#221e1f"></div>
<div class="t" style="left:340.65px;width:400px;text-align:center;top:346.00px;font:700 13.2px/15.84px 'Liberation Sans',sans-serif;color:#fff;-webkit-text-stroke:0.25px #fff;"><span id="v4_4" style="letter-spacing:0px;">8</span></div>
<div class="r" style="left:594.35px;top:334.85px;width:36.4px;height:36.4px;border-radius:50%;background:#221e1f"></div>
<div class="t" style="left:412.54999999999995px;width:400px;text-align:center;top:346.00px;font:700 13.2px/15.84px 'Liberation Sans',sans-serif;color:#fff;-webkit-text-stroke:0.25px #fff;"><span id="v4_5" style="letter-spacing:0px;">11</span></div>
<div class="r" style="left:674.55px;top:334.85px;width:36.4px;height:36.4px;border-radius:50%;background:#221e1f"></div>
<div class="t" style="left:492.75px;width:400px;text-align:center;top:346.00px;font:700 13.2px/15.84px 'Liberation Sans',sans-serif;color:#fff;-webkit-text-stroke:0.25px #fff;"><span id="v4_6" style="letter-spacing:0px;">13</span></div>
<div class="r" style="left:746.30px;top:334.85px;width:36.4px;height:36.4px;border-radius:50%;background:#221e1f"></div>
<div class="t" style="left:564.5px;width:400px;text-align:center;top:346.00px;font:700 13.2px/15.84px 'Liberation Sans',sans-serif;color:#fff;-webkit-text-stroke:0.25px #fff;"><span id="v4_7" style="letter-spacing:0px;">12</span></div>
<div class="r" style="left:190px;top:392.70px;width:575px;height:1.1px;background:#262223"></div>
<div class="r" style="left:13px;top:375.60px;width:186.5px;height:34.9px;border-radius:17.5px;background:#ec1c24"></div>
<svg class="r" style="left:20px;top:370px" width="60" height="42" viewBox="0 0 60 42" fill="none" stroke="#fff" stroke-width="1.35" stroke-linecap="round" stroke-linejoin="round">
<!-- newspaper -->
<path d="M14.600 8.400H34.600l3 3V35.200a2 2 0 0 1-2 2H14.600Z" stroke-width="1.35"/>
<path d="M14.600 20H10.800a2 2 0 0 0-2 2V34.400a2.900 2.900 0 0 0 5.800 0" stroke-width="1.35"/>
<path d="M11.600 22.400V34.600" stroke-width="1.08"/>
<path d="M12 11.400v8" stroke-dasharray="0.200 1.800" stroke-width="1.35"/>
<circle cx="34.400" cy="11.200" r="0.600" stroke-width="1.08"/>
<rect x="18.600" y="11.400" width="13.200" height="7.200" rx="0.600" stroke-width="1.22"/>
<path d="M20.400 13.600h5.200v1.800h4.200" stroke-width="1.08" opacity="0.8"/>
<path d="M20.800 21.200H33.400M18.600 23.700H31.400M20.800 26.200H33.400M18.600 28.700H31.400M16.400 34H30.600" stroke-width="1.22"/>
<path d="M18.600 31.400H33.600" stroke-width="1.35" stroke-dasharray="0.200 1.700"/>
</svg>
<div class="t" style="left:67.85px;top:378.01px;font:700 14.7px/17.64px 'Liberation Sans',sans-serif;color:#fff;-webkit-text-stroke:0.3px #fff;"><span id="p5a" style="letter-spacing:0.368px;margin-right:-0.368px;">Newspapers &amp;</span></div>
<div class="t" style="left:67.85px;top:392.00px;font:700 14.7px/17.64px 'Liberation Sans',sans-serif;color:#fff;-webkit-text-stroke:0.3px #fff;"><span id="p5b" style="letter-spacing:0.638px;margin-right:-0.638px;">Magazines</span></div>
<div class="r" style="left:218.20px;top:375.05px;width:36.4px;height:36.4px;border-radius:50%;background:#221e1f"></div>
<div class="t" style="left:36.400000000000006px;width:400px;text-align:center;top:386.01px;font:700 13.2px/15.84px 'Liberation Sans',sans-serif;color:#fff;-webkit-text-stroke:0.25px #fff;"><span id="v5_0" style="letter-spacing:0px;">14</span></div>
<div class="r" style="left:298.35px;top:375.05px;width:36.4px;height:36.4px;border-radius:50%;background:#221e1f"></div>
<div class="t" style="left:116.55000000000001px;width:400px;text-align:center;top:386.01px;font:700 13.2px/15.84px 'Liberation Sans',sans-serif;color:#fff;-webkit-text-stroke:0.25px #fff;"><span id="v5_1" style="letter-spacing:0px;">6</span></div>
<div class="r" style="left:378.45px;top:375.05px;width:36.4px;height:36.4px;border-radius:50%;background:#221e1f"></div>
<div class="t" style="left:196.64999999999998px;width:400px;text-align:center;top:386.01px;font:700 13.2px/15.84px 'Liberation Sans',sans-serif;color:#fff;-webkit-text-stroke:0.25px #fff;"><span id="v5_2" style="letter-spacing:0px;">4</span></div>
<div class="r" style="left:450.30px;top:375.05px;width:36.4px;height:36.4px;border-radius:50%;background:#ec1c24"></div>
<div class="t" style="left:268.5px;width:400px;text-align:center;top:386.01px;font:700 13.2px/15.84px 'Liberation Sans',sans-serif;color:#fff;-webkit-text-stroke:0.25px #fff;"><span id="v5_3" style="letter-spacing:0px;">11</span></div>
<div class="r" style="left:522.45px;top:375.05px;width:36.4px;height:36.4px;border-radius:50%;background:#221e1f"></div>
<div class="t" style="left:340.65px;width:400px;text-align:center;top:386.01px;font:700 13.2px/15.84px 'Liberation Sans',sans-serif;color:#fff;-webkit-text-stroke:0.25px #fff;"><span id="v5_4" style="letter-spacing:0px;">5</span></div>
<div class="r" style="left:594.35px;top:375.05px;width:36.4px;height:36.4px;border-radius:50%;background:#221e1f"></div>
<div class="t" style="left:412.54999999999995px;width:400px;text-align:center;top:386.01px;font:700 13.2px/15.84px 'Liberation Sans',sans-serif;color:#fff;-webkit-text-stroke:0.25px #fff;"><span id="v5_5" style="letter-spacing:0px;">8</span></div>
<div class="r" style="left:674.55px;top:375.05px;width:36.4px;height:36.4px;border-radius:50%;background:#221e1f"></div>
<div class="t" style="left:492.75px;width:400px;text-align:center;top:386.01px;font:700 13.2px/15.84px 'Liberation Sans',sans-serif;color:#fff;-webkit-text-stroke:0.25px #fff;"><span id="v5_6" style="letter-spacing:0px;">9</span></div>
<div class="r" style="left:746.30px;top:375.05px;width:36.4px;height:36.4px;border-radius:50%;background:#221e1f"></div>
<div class="t" style="left:564.5px;width:400px;text-align:center;top:386.01px;font:700 13.2px/15.84px 'Liberation Sans',sans-serif;color:#fff;-webkit-text-stroke:0.25px #fff;"><span id="v5_7" style="letter-spacing:0px;">9</span></div>
<div class="r" style="left:190px;top:432.90px;width:575px;height:1.1px;background:#262223"></div>
<div class="r" style="left:13px;top:415.80px;width:186.5px;height:34.9px;border-radius:17.5px;background:#ec1c24"></div>
<svg class="r" style="left:20px;top:410px" width="60" height="42" viewBox="0 0 60 42" fill="none" stroke="#fff" stroke-width="1.35" stroke-linecap="round" stroke-linejoin="round">
<!-- radio -->
<rect x="9.200" y="17.400" width="27.600" height="18.800" rx="2.600" stroke-width="2.03"/>
<path d="M13.400 15.400L35.600 10.400" stroke-width="1.49"/>
<circle cx="12.300" cy="15.800" r="1.200" stroke-width="1.22"/>
<rect x="12.900" y="21.600" width="20.600" height="4.500" stroke-width="1.22"/>
<path d="M26.900 21.600v4.500h2.300v-2h1.800" stroke-width="1.22"/>
<circle cx="15.400" cy="31.100" r="2.600" stroke-width="1.22"/>
<circle cx="31" cy="31.100" r="2.600" stroke-width="1.22"/>
<path d="M20.900 29.500h4.400M20.900 32h4.400" stroke-width="1.35"/>
<path d="M21.600 34.600h2.600" stroke-width="1.22"/>
</svg>
<div class="t" style="left:67.85px;top:426.00px;font:700 14.7px/17.64px 'Liberation Sans',sans-serif;color:#fff;-webkit-text-stroke:0.3px #fff;"><span id="p6a" style="letter-spacing:0.387px;margin-right:-0.387px;">Radio</span></div>
<div class="r" style="left:218.20px;top:415.25px;width:36.4px;height:36.4px;border-radius:50%;background:#221e1f"></div>
<div class="t" style="left:36.400000000000006px;width:400px;text-align:center;top:426.01px;font:700 13.2px/15.84px 'Liberation Sans',sans-serif;color:#fff;-webkit-text-stroke:0.25px #fff;"><span id="v6_0" style="letter-spacing:0px;">3</span></div>
<div class="r" style="left:298.35px;top:415.25px;width:36.4px;height:36.4px;border-radius:50%;background:#221e1f"></div>
<div class="t" style="left:116.55000000000001px;width:400px;text-align:center;top:426.01px;font:700 13.2px/15.84px 'Liberation Sans',sans-serif;color:#fff;-webkit-text-stroke:0.25px #fff;"><span id="v6_1" style="letter-spacing:0px;">2</span></div>
<div class="r" style="left:378.45px;top:415.25px;width:36.4px;height:36.4px;border-radius:50%;background:#221e1f"></div>
<div class="t" style="left:196.64999999999998px;width:400px;text-align:center;top:426.01px;font:700 13.2px/15.84px 'Liberation Sans',sans-serif;color:#fff;-webkit-text-stroke:0.25px #fff;"><span id="v6_2" style="letter-spacing:0px;">6</span></div>
<div class="r" style="left:450.30px;top:415.25px;width:36.4px;height:36.4px;border-radius:50%;background:#ec1c24"></div>
<div class="t" style="left:268.5px;width:400px;text-align:center;top:426.01px;font:700 13.2px/15.84px 'Liberation Sans',sans-serif;color:#fff;-webkit-text-stroke:0.25px #fff;"><span id="v6_3" style="letter-spacing:0px;">4</span></div>
<div class="r" style="left:522.45px;top:415.25px;width:36.4px;height:36.4px;border-radius:50%;background:#221e1f"></div>
<div class="t" style="left:340.65px;width:400px;text-align:center;top:426.01px;font:700 13.2px/15.84px 'Liberation Sans',sans-serif;color:#fff;-webkit-text-stroke:0.25px #fff;"><span id="v6_4" style="letter-spacing:0px;">1</span></div>
<div class="r" style="left:594.35px;top:415.25px;width:36.4px;height:36.4px;border-radius:50%;background:#221e1f"></div>
<div class="t" style="left:412.54999999999995px;width:400px;text-align:center;top:426.01px;font:700 13.2px/15.84px 'Liberation Sans',sans-serif;color:#fff;-webkit-text-stroke:0.25px #fff;"><span id="v6_5" style="letter-spacing:0px;">6</span></div>
<div class="r" style="left:674.55px;top:415.25px;width:36.4px;height:36.4px;border-radius:50%;background:#221e1f"></div>
<div class="t" style="left:492.75px;width:400px;text-align:center;top:426.01px;font:700 13.2px/15.84px 'Liberation Sans',sans-serif;color:#fff;-webkit-text-stroke:0.25px #fff;"><span id="v6_6" style="letter-spacing:0px;">3</span></div>
<div class="r" style="left:746.30px;top:415.25px;width:36.4px;height:36.4px;border-radius:50%;background:#221e1f"></div>
<div class="t" style="left:564.5px;width:400px;text-align:center;top:426.01px;font:700 13.2px/15.84px 'Liberation Sans',sans-serif;color:#fff;-webkit-text-stroke:0.25px #fff;"><span id="v6_7" style="letter-spacing:0px;">4</span></div>
<div class="r" style="left:14px;top:460.7px;width:775px;height:1px;background:#333"></div>
<div class="t" style="left:13.65px;top:467.01px;font:400 9.2px/11.04px 'DejaVu Sans','Liberation Sans',sans-serif;color:#111;-webkit-text-stroke:0.18px #111;"><span id="note" style="letter-spacing:0.159px;margin-right:-0.159px;">Note: Select countries. Total survey base of 8,000 individuals (500 per country)</span></div>
<div class="t" style="left:187.75px;width:600px;text-align:right;top:467.01px;font:400 9.2px/11.04px 'DejaVu Sans','Liberation Sans',sans-serif;color:#111;-webkit-text-stroke:0.18px #111;"><span id="srcu" style="letter-spacing:0.269px;margin-right:-0.269px;">Source: Unesco</span></div>
<div class="r" style="left:14px;top:497px;width:775px;height:1px;background:#333"></div>
</div>
</body></html>
